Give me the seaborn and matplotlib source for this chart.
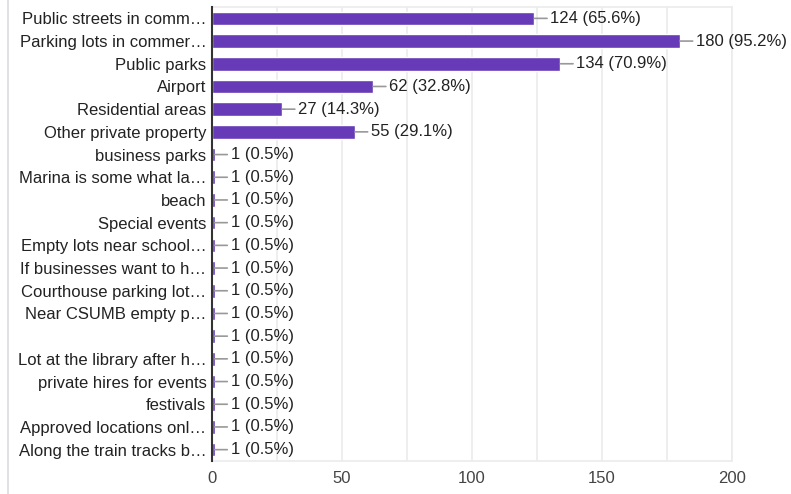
import matplotlib
matplotlib.use("Agg")
import matplotlib.pyplot as plt
import seaborn as sns
import pandas as pd
from matplotlib.lines import Line2D

# datos
labels = [
    "Public streets in comm…",
    "Parking lots in commer…",
    "Public parks",
    "Airport",
    "Residential areas",
    "Other private property",
    "business parks",
    "Marina is some what la…",
    "beach",
    "Special events",
    "Empty lots near school…",
    "If businesses want to h…",
    "Courthouse parking lot…",
    "Near CSUMB empty p…",
    "",
    "Lot at the library after h…",
    "private hires for events",
    "festivals",
    "Approved locations onl…",
    "Along the train tracks b…",
]
counts = [124, 180, 134, 62, 27, 55] + [1] * 14
percents = ["65.6", "95.2", "70.9", "32.8", "14.3", "29.1"] + ["0.5"] * 14
x_ticks = [0, 50, 100, 150, 200]

df = pd.DataFrame({"label": labels, "count": counts})

sns.set_style("white")
plt.rcParams["font.family"] = ["Liberation Sans", "DejaVu Sans"]

fig = plt.figure(figsize=(7.91, 4.94), dpi=100)
ax = fig.add_axes([0.268, 0.0668, 0.6574, 0.919])

sns.barplot(data=df, x="count", y="label", order=labels, color="#673AB7",
            saturation=1, width=0.6, ax=ax)

# lineas de la cuadricula cada 25
ax.set_xlim(0, 200)
ax.set_xticks(x_ticks)
ax.set_xticks(range(25, 200, 50), minor=True)
ax.grid(axis="x", which="both", color="#ebebeb", linewidth=1.2)
ax.set_axisbelow(True)
ax.tick_params(axis="x", which="both", length=0, pad=7, labelsize=12, labelcolor="#444444")
ax.tick_params(axis="y", length=0, pad=4, labelsize=12, labelcolor="#222222")
ax.set_xlabel("")
ax.set_ylabel("")
ax.set_ylim(len(labels) - 0.5, -0.5)

# marco claro alrededor del area del grafico
for s in ["top", "bottom", "right"]:
    ax.spines[s].set_color("#ebebeb")
    ax.spines[s].set_linewidth(1.2)
ax.spines["left"].set_color("#333333")
ax.spines["left"].set_linewidth(1.5)
ax.spines["left"].set_zorder(3)

for i, (c, p) in enumerate(zip(counts, percents)):
    ax.annotate(f"{c} ({p}%)", xy=(c, i), xytext=(11.5, 0), textcoords="offset points",
                va="center", ha="left", fontsize=12, color="#222222",
                arrowprops=dict(arrowstyle="-", color="#999999", lw=1.2,
                                shrinkA=0, shrinkB=0))

# borde de la tarjeta a la izquierda
fig.add_artist(Line2D([0.0105, 0.0105], [0, 1], transform=fig.transFigure,
                      color="#dadce0", linewidth=1.2))

fig.savefig("out.png", dpi=100)
